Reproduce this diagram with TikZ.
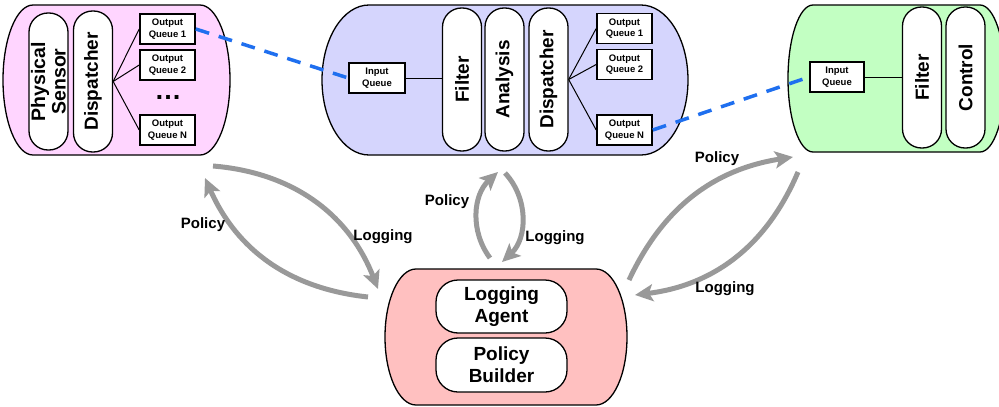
\documentclass[tikz,border=0pt]{standalone}
\usepackage{fontspec}
\setmainfont{Liberation Sans}
\usetikzlibrary{arrows.meta}

\definecolor{sensorfill}{HTML}{FFD5FF}
\definecolor{procfill}{HTML}{D5D5FD}
\definecolor{ctrlfill}{HTML}{C2FFC2}
\definecolor{agentfill}{HTML}{FFC0C0}
\definecolor{linkblue}{HTML}{1F6FEF}
\definecolor{flowgray}{HTML}{999999}

% Container with half-elliptic ends: #1 fill, #2 left, #3 right, #4 top, #5 bottom, #6 end depth
\newcommand\capsulebox[6]{%
  \draw[boxline, fill=#1] ({#2+#6},#4) -- ({#3-#6},#4)
    .. controls ({#3-0.448*#6},#4) and (#3,{#4+0.224*(#5-#4)}) .. (#3,{(#4+#5)/2})
    .. controls (#3,{#5-0.224*(#5-#4)}) and ({#3-0.448*#6},#5) .. ({#3-#6},#5)
    -- ({#2+#6},#5)
    .. controls ({#2+0.448*#6},#5) and (#2,{#5-0.224*(#5-#4)}) .. (#2,{(#4+#5)/2})
    .. controls (#2,{#4+0.224*(#5-#4)}) and ({#2+0.448*#6},#4) .. ({#2+#6},#4) -- cycle;}

\begin{document}
\begin{tikzpicture}[x=1pt,y=-1pt,
  boxline/.style={draw=black,line width=1.3pt},
  pill/.style={draw=black,line width=1.3pt,fill=white,rounded corners=19pt,rotate=90,
    inner sep=0pt,align=center,minimum height=39pt,
    font=\fontsize{19}{20.5}\selectfont\bfseries},
  hpill/.style={draw=black,line width=1.3pt,fill=white,rounded corners=22pt,
    minimum width=131pt,minimum height=53pt,inner sep=0pt,align=center,
    font=\fontsize{19}{22}\selectfont\bfseries},
  queue/.style={draw=black,line width=1.6pt,fill=white,minimum width=55pt,
    minimum height=30pt,inner sep=0pt,align=center,
    font=\fontsize{9.5}{11.5}\selectfont\bfseries},
  fan/.style={line width=1pt},
  link/.style={linkblue,line width=3.5pt,dash pattern=on 14pt off 10pt},
  flow/.style={flowgray,line width=5pt,-{Stealth[length=18pt,width=17pt,inset=4pt]}},
  flowlabel/.style={font=\fontsize{15}{18}\selectfont\bfseries}]

\clip (0,0) rectangle (999,407);

% containers
\capsulebox{sensorfill}{3}{230}{5}{155}{30}
\capsulebox{procfill}{322}{688}{5}{155}{47}
\capsulebox{ctrlfill}{788}{1005}{5}{152}{25}
\capsulebox{agentfill}{385}{627}{269}{405}{31}

% sensor stage
\node[pill,minimum width=137pt,font=\fontsize{19.5}{20.5}\selectfont\bfseries] (sensor) at (48.5,81.5) {Physical\\Sensor};
\node[pill,minimum width=141pt] (sdisp) at (93,81.5) {Dispatcher};
\node[queue] (sq1) at (167.5,29) {Output\\Queue 1};
\node[queue] (sq2) at (167.5,65) {Output\\Queue 2};
\node[font=\fontsize{27}{27}\selectfont\bfseries] (sdots) at (168,97) {…};
\node[queue] (sqN) at (167.5,130) {Output\\Queue N};
\draw[fan] (sdisp.south) -- (sq1.west);
\draw[fan] (sdisp.south) -- (sq2.west);
\draw[fan] (sdisp.south) -- (sqN.west);

% processing stage
\node[queue,minimum width=56pt] (iq) at (377,78) {Input\\Queue};
\node[pill,minimum width=143pt] (pfilter) at (462,79.5) {Filter};
\node[pill,minimum width=143pt] (panalysis) at (504.5,79.5) {Analysis};
\node[pill,minimum width=143pt] (pdisp) at (548.5,79.5) {Dispatcher};
\node[queue] (pq1) at (624.5,28.5) {Output\\Queue 1};
\node[queue] (pq2) at (624.5,64.5) {Output\\Queue 2};
\node[queue] (pqN) at (624.5,130) {Output\\Queue N};
\draw[fan] (iq.east) -- (iq.east -| pfilter.north);
\draw[fan] (pdisp.south) -- (pq1.west);
\draw[fan] (pdisp.south) -- (pq2.west);
\draw[fan] (pdisp.south) -- (pqN.west);

% control stage
\node[queue,minimum width=54pt] (ciq) at (837,77) {Input\\Queue};
\node[pill,minimum width=141pt] (cfilter) at (922,77.5) {Filter};
\node[pill,minimum width=141pt] (control) at (965.5,77.5) {Control};
\draw[fan] (ciq.east) -- (ciq.east -| cfilter.north);

% agent
\node[hpill] (logagent) at (501.5,306.5) {Logging\\Agent};
\node[hpill,minimum height=54pt] (polbuild) at (501.5,365) {Policy\\Builder};

% queue links
\draw[link] (sq1.east) -- (iq.west);
\draw[link] (pqN.east) -- (ciq.west);

% policy / logging flows
\coordinate (polAs) at (368,297);
\coordinate (polAe) at (205,178);
\coordinate (logAs) at (213,166);
\coordinate (logAe) at (378,289);
\coordinate (polBs) at (490,258);
\coordinate (polBe) at (498,172);
\coordinate (logBs) at (505,173);
\coordinate (logBe) at (502,262);
\coordinate (polCs) at (629,280);
\coordinate (polCe) at (793,157);
\coordinate (logCs) at (798,172);
\coordinate (logCe) at (635,295);

\draw[flow] (polAs) to[bend left=30] (polAe);
\draw[flow] (logAs) to[bend left=32] (logAe);
\draw[flow] (polBs) to[bend left=42] (polBe);
\draw[flow] (logBs) to[bend left=45] (logBe);
\draw[flow] (polCs) to[bend left=28] (polCe);
\draw[flow] (logCs) to[bend left=30] (logCe);

\node[flowlabel] (polAl) at (203,225) {Policy};
\node[flowlabel] (logAl) at (383,237) {Logging};
\node[flowlabel] (polBl) at (447,202) {Policy};
\node[flowlabel] (logBl) at (555,238) {Logging};
\node[flowlabel] (polCl) at (717,159) {Policy};
\node[flowlabel] (logCl) at (725,289) {Logging};

\end{tikzpicture}
\end{document}
